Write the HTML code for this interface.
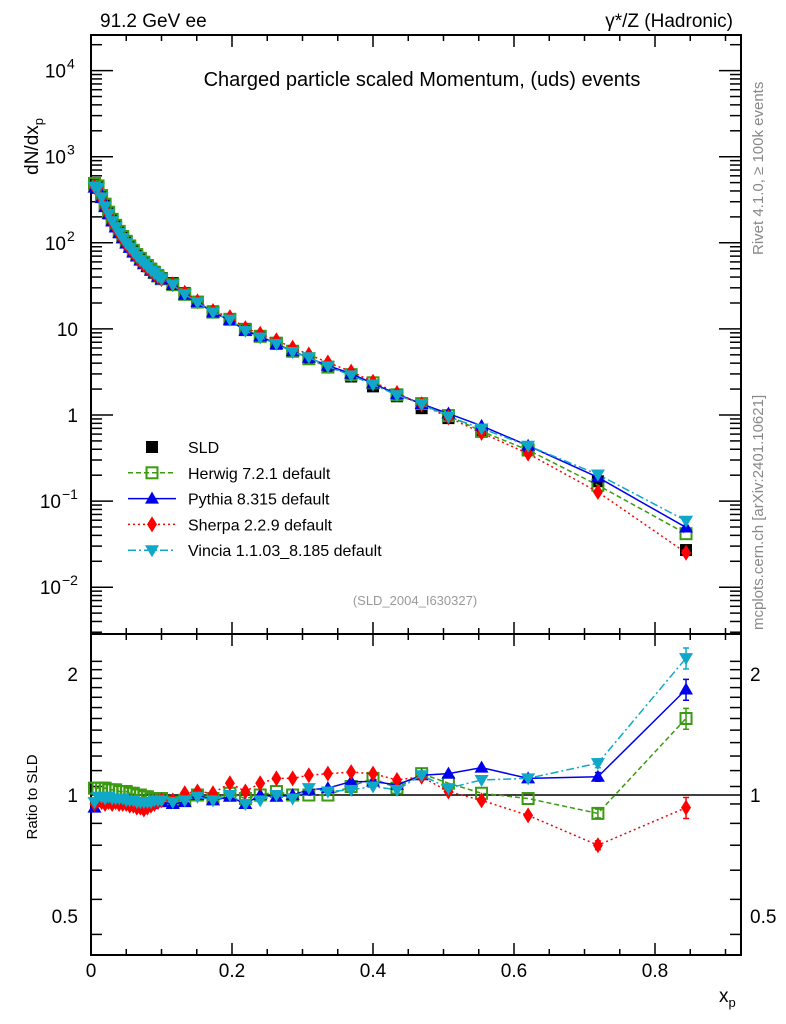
<!DOCTYPE html>
<html><head><meta charset="utf-8"><style>
html,body{margin:0;padding:0;background:#fff;}
svg{display:block;font-family:"Liberation Sans",Arial,sans-serif;}
</style></head><body>
<svg id="chart" width="786" height="1024" viewBox="0 0 786 1024" xmlns="http://www.w3.org/2000/svg">
<g id="axes"></g><g id="marks"></g><g id="labels"></g>
</svg>
<script>
const xp = [0.005,0.01,0.015,0.02,0.025,0.03,0.035,0.04,0.045,0.05,0.055,0.06,0.065,0.07,0.075,0.08,0.085,0.09,0.095,0.1,
0.116,0.133,0.151,0.173,0.197,0.219,0.240,0.263,0.286,0.309,0.336,0.369,0.400,0.434,0.469,0.507,0.554,0.620,0.719,0.844];
const sld = [470,440,340,270,220,182,155,133,116,102,91,81,73,66,60,55,50,46,42,39,
34,26,20.5,16,12.8,10,8.2,6.7,5.5,4.5,3.6,2.8,2.15,1.65,1.2,0.92,0.64,0.40,0.17,0.027];
const herwigRatio = [1.04,1.04,1.04,1.04,1.03,1.03,1.03,1.02,1.02,1.02,1.01,1.01,1.0,1.0,0.99,0.99,0.98,0.98,0.98,0.98,
0.96,0.97,1.0,0.98,1.01,0.98,1.0,1.02,1.0,1.0,1.0,1.05,1.10,1.04,1.13,1.07,1.01,0.98,0.90,1.55];
const pythiaRatio = [0.93,0.96,0.97,0.96,0.98,0.97,0.97,0.97,0.97,0.96,0.96,0.95,0.95,0.94,0.94,0.95,0.95,0.96,0.96,0.96,
0.95,0.96,1.0,0.97,0.99,0.95,1.0,0.99,1.0,1.03,1.04,1.08,1.08,1.06,1.12,1.13,1.17,1.10,1.11,1.83];
const sherpaRatio = [0.95,0.97,0.96,0.95,0.96,0.95,0.96,0.95,0.95,0.95,0.94,0.94,0.93,0.93,0.92,0.93,0.94,0.95,0.96,0.97,
0.97,1.01,1.02,1.01,1.07,1.02,1.07,1.10,1.10,1.12,1.13,1.14,1.13,1.09,1.11,1.02,0.97,0.89,0.75,0.93];
const vinciaRatio = [0.96,0.99,0.99,0.98,0.99,0.98,0.98,0.98,0.98,0.97,0.97,0.97,0.96,0.96,0.96,0.96,0.96,0.97,0.97,0.97,
0.96,0.97,0.99,0.97,1.0,0.95,0.97,1.0,0.98,1.04,1.02,1.03,1.05,1.03,1.12,1.04,1.09,1.10,1.20,2.19];
const xTicks = [0,0.2,0.4,0.6,0.8];
const xTickLabels = ["0","0.2","0.4","0.6","0.8"];
const yDecades = [-2,-1,0,1,2,3,4];
const yDecadeLabels = ["10","10","1","10","10","10","10"];
const yDecadeSups = ["−2","−1","","","2","3","4"];
const rTicks = [0.5,1,2];
const rTickLabels = ["0.5","1","2"];

const NS="http://www.w3.org/2000/svg";
const L=91,R=741,T=35,M=634,B=955;
const X=v=>L+705*v;
const Y=v=>415-86.1*Math.log10(v);
const RY=v=>795-402*Math.log10(v);
function mk(tag,attrs,parent){const e=document.createElementNS(NS,tag);for(const k in attrs)e.setAttribute(k,attrs[k]);parent.appendChild(e);return e;}
const axes=document.getElementById('axes'),marks=document.getElementById('marks'),labels=document.getElementById('labels');

let f1=mk('rect',{x:L,y:T,width:R-L,height:M-T,fill:'none',stroke:'#000','stroke-width':2},axes);


let f2=mk('rect',{x:L,y:M,width:R-L,height:B-M,fill:'none',stroke:'#000','stroke-width':2},axes);



for(let v=0;v<=0.92;v+=0.05){
  const x=X(v);const major=Math.abs(v/0.2-Math.round(v/0.2))<1e-6;const len=major?12:6;
  [[B,-1],[M,1],[M,-1],[T,1]].forEach(([y0,d])=>{
    const t=mk('line',{x1:x,x2:x,y1:y0,y2:y0+d*len,stroke:'#000','stroke-width':1.5},axes);
    
    
  });
}
xTicks.forEach((v,i)=>{
  const t=mk('text',{x:X(v),y:977,'text-anchor':'middle','font-size':19},labels);t.textContent=xTickLabels[i];
  
  
});
for(let d=-3;d<=4;d++){
  for(let m=1;m<10;m++){
    const v=m*Math.pow(10,d);const y=Y(v);if(y<T||y>M)continue;
    const len=m===1?22:11;
    [[L,1],[R,-1]].forEach(([x0,dd])=>{
      const t=mk('line',{x1:x0,x2:x0+dd*len,y1:y,y2:y,stroke:'#000','stroke-width':1.5},axes);
      
      
    });
  }
}
yDecades.forEach((d,i)=>{
  const y=Y(Math.pow(10,d));
  const hasSup=!!yDecadeSups[i];
  const t=mk('text',{x:hasSup?(d<0?61:66):78,y:y+7,'text-anchor':'end','font-size':19},labels);
  t.textContent=yDecadeLabels[i];
  
  
  if(hasSup){const s=mk('text',{x:d<0?62:67,y:y-2,'text-anchor':'start','font-size':14},labels);s.textContent=yDecadeSups[i];
    
    }
});
for(let v=0.45;v<=2.25;v+=0.1){
  const y=RY(v);if(y<M||y>B)continue;
  const major=[0.5,1,2].some(q=>Math.abs(q-v)<1e-6);const len=major?22:11;
  [[L,1],[R,-1]].forEach(([x0,dd])=>{
    const t=mk('line',{x1:x0,x2:x0+dd*len,y1:y,y2:y,stroke:'#000','stroke-width':1.5},axes);
    
    
  });
}
rTicks.forEach((v,i)=>{
  [[78,'end'],[750,'start']].forEach(([x,a])=>{
    const t=mk('text',{x:x,y:RY(v)+7,'text-anchor':a,'font-size':19},labels);t.textContent=rTickLabels[i];
    
    
  });
});
let one=mk('line',{x1:L,x2:R,y1:RY(1),y2:RY(1),stroke:'#000','stroke-width':1.5},axes);



function marker(type,x,y,color,g){
  const s=6;let e;
  if(type==='sq') e=mk('rect',{x:x-s,y:y-s,width:2*s,height:2*s,fill:'#000'},g);
  else if(type==='osq') e=mk('rect',{x:x-5.5,y:y-5.5,width:11,height:11,fill:'none',stroke:color,'stroke-width':2},g);
  else if(type==='tu') e=mk('polygon',{points:`${x},${y-7} ${x-7},${y+5} ${x+7},${y+5}`,fill:color},g);
  else if(type==='td') e=mk('polygon',{points:`${x},${y+7} ${x-7},${y-5} ${x+7},${y-5}`,fill:color},g);
  else if(type==='dia') e=mk('polygon',{points:`${x},${y-8} ${x-5},${y} ${x},${y+8} ${x+5},${y}`,fill:color},g);
  return e;
}
const series=[
 {name:'herwig',ratio:herwigRatio,color:'#3a9a10',dash:'5,3',m:'osq'},
 {name:'pythia',ratio:pythiaRatio,color:'#0000ee',dash:'',m:'tu'},
 {name:'sherpa',ratio:sherpaRatio,color:'#ff0000',dash:'2,3',m:'dia'},
 {name:'vincia',ratio:vinciaRatio,color:'#10a8c8',dash:'8,3,2,3',m:'td'}
];
const gS=mk('g',{},marks);


xp.forEach((v,i)=>{const e=marker('sq',X(v),Y(sld[i]),'#000',gS);
  
  });
series.forEach(s=>{
  const g=mk('g',{},marks);
  
  
  const pts=xp.map((v,i)=>X(v)+','+Y(sld[i]*s.ratio[i])).join(' ');
  const pl=mk('polyline',{points:pts,fill:'none',stroke:s.color,'stroke-width':1.5,'stroke-dasharray':s.dash},g);
  
  
  xp.forEach((v,i)=>{const e=marker(s.m,X(v),Y(sld[i]*s.ratio[i]),s.color,g);
    
    });
  const gr=mk('g',{},marks);
  
  
  const rp=xp.map((v,i)=>X(v)+','+RY(s.ratio[i])).join(' ');
  const rl=mk('polyline',{points:rp,fill:'none',stroke:s.color,'stroke-width':1.5,'stroke-dasharray':s.dash},gr);
  
  
  xp.forEach((v,i)=>{
    const x=X(v),y=RY(s.ratio[i]);
    if(i>=xp.length-2){const err=(i===xp.length-1)?0.06*s.ratio[i]:0.025*s.ratio[i];
      const eb=mk('path',{d:`M${x},${RY(s.ratio[i]+err)}V${RY(s.ratio[i]-err)}M${x-3},${RY(s.ratio[i]+err)}H${x+3}M${x-3},${RY(s.ratio[i]-err)}H${x+3}`,stroke:s.color,'stroke-width':1.5,fill:'none'},gr);
      
      }
    const e=marker(s.m,x,y,s.color,gr);
    
    
  });
});

const legNames=['SLD','Herwig 7.2.1 default','Pythia 8.315 default','Sherpa 2.2.9 default','Vincia 1.1.03_8.185 default'];
const legTypes=['sq','osq','tu','dia','td'];
const legColors=['#000','#3a9a10','#0000ee','#ff0000','#10a8c8'];
const legDash=[null,'5,3','','2,3','8,3,2,3'];
legNames.forEach((n,i)=>{
  const y=447+i*25.8;
  const g=mk('g',{},labels);
  
  
  if(legDash[i]!==null) mk('line',{x1:128,x2:176,y1:y,y2:y,stroke:legColors[i],'stroke-width':1.5,'stroke-dasharray':legDash[i]},g);
  marker(legTypes[i],152,y,legColors[i],g);
  const t=mk('text',{x:188,y:y+6,'font-size':16},g);t.textContent=n;
});
</script>
<div style="position:absolute;left:0;top:0;width:786px;height:1024px;pointer-events:none;">
<svg width="786" height="1024" style="font-family:'Liberation Sans',Arial,sans-serif;">
<text x="100" y="27" font-size="19">91.2 GeV ee</text>
<text x="733" y="27" font-size="19" text-anchor="end">γ*/Z (Hadronic)</text>
<text x="422" y="86" font-size="20" text-anchor="middle">Charged particle scaled Momentum, (uds) events</text>
<text x="415" y="605" font-size="13" fill="#999" text-anchor="middle">(SLD_2004_I630327)</text>
<text transform="translate(38,118) rotate(-90)" font-size="19" text-anchor="end">dN/dx<tspan font-size="13" dy="5">p</tspan></text>
<text transform="translate(37,797) rotate(-90)" font-size="15" text-anchor="middle">Ratio to SLD</text>
<text x="719" y="1002" font-size="19">x<tspan font-size="13" dy="5">p</tspan></text>
<text transform="translate(763,255) rotate(-90)" font-size="15" fill="#888">Rivet 4.1.0, ≥ 100k events</text>
<text transform="translate(763,630) rotate(-90)" font-size="15" fill="#888">mcplots.cern.ch [arXiv:2401.10621]</text>
</svg></div>
</body></html>
